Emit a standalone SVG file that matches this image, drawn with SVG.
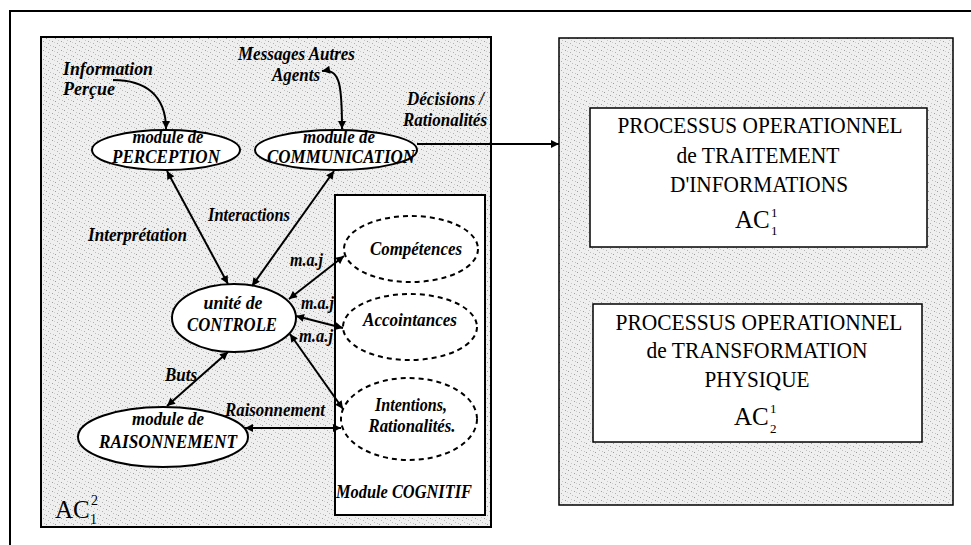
<svg xmlns="http://www.w3.org/2000/svg" width="971" height="545" viewBox="0 0 971 545">
<defs>
<pattern id="speckle" width="9" height="9" patternUnits="userSpaceOnUse">
<rect width="9" height="9" fill="#efefef"/>
<rect x="1" y="2" width="1" height="1" fill="#9a9a9a"/>
<rect x="5" y="0" width="1" height="1" fill="#bdbdbd"/>
<rect x="7" y="5" width="1" height="1" fill="#a0a0a0"/>
<rect x="3" y="7" width="1" height="1" fill="#b0b0b0"/>
<rect x="4" y="4" width="1" height="1" fill="#c8c8c8"/>
<rect x="0" y="6" width="1" height="1" fill="#d0d0d0"/>
<rect x="8" y="1" width="1" height="1" fill="#c0c0c0"/>
</pattern>
<marker id="ah" viewBox="0 0 10 10" refX="10" refY="5" markerWidth="9" markerHeight="8" markerUnits="userSpaceOnUse" orient="auto-start-reverse">
<path d="M0,0 L10,5 L0,10 z" fill="#000"/>
</marker>
</defs>
<style>
.lbl{font-family:"Liberation Serif","Times New Roman",serif;font-weight:bold;font-style:italic;font-size:18.5px;fill:#000}
.proc{font-family:"Liberation Serif","Times New Roman",serif;font-size:22.5px;fill:#000}
.ac{font-family:"Liberation Serif","Times New Roman",serif;fill:#000}
.node{fill:#fff;stroke:#000;stroke-width:2}
.dash{fill:none;stroke:#000;stroke-width:2;stroke-dasharray:5 4}
.box{stroke:#000;stroke-width:2}
.conn{fill:none;stroke:#000;stroke-width:2}
.mc{text-anchor:middle}
</style>
<rect width="971" height="545" fill="#fff"/>
<g id="frame">
<path d="M10,545 L10,11 L971,11" fill="none" stroke="#000" stroke-width="2"/>
</g>
<g id="agent-AC12">
<rect x="41" y="37" width="450" height="490" fill="url(#speckle)" class="box"/>
<text class="ac" x="55" y="518" font-size="25">AC</text>
<text class="ac" x="91" y="505" font-size="14">2</text>
<text class="ac" x="90" y="524" font-size="14">1</text>
</g>
<g id="operationnel">
<rect x="559" y="38" width="394" height="467" fill="url(#speckle)" stroke="#000" stroke-width="1.5"/>
</g>
<g id="traitement">
<rect x="590" y="108" width="337" height="139" fill="#fff" stroke="#000" stroke-width="1.5"/>
<text class="proc mc" x="760" y="133" textLength="285" lengthAdjust="spacingAndGlyphs">PROCESSUS OPERATIONNEL</text>
<text class="proc mc" x="758" y="163" textLength="163" lengthAdjust="spacingAndGlyphs">de TRAITEMENT</text>
<text class="proc mc" x="759" y="192" textLength="178" lengthAdjust="spacingAndGlyphs">D'INFORMATIONS</text>
<text class="ac" x="735" y="228" font-size="25">AC</text>
<text class="ac" x="771" y="217" font-size="13">1</text>
<text class="ac" x="771" y="235" font-size="13">1</text>
</g>
<g id="transformation">
<rect x="593" y="304" width="329" height="138" fill="#fff" stroke="#000" stroke-width="1.5"/>
<text class="proc mc" x="759" y="330" textLength="287" lengthAdjust="spacingAndGlyphs">PROCESSUS OPERATIONNEL</text>
<text class="proc mc" x="757" y="358" textLength="221" lengthAdjust="spacingAndGlyphs">de TRANSFORMATION</text>
<text class="proc mc" x="757" y="387" textLength="105" lengthAdjust="spacingAndGlyphs">PHYSIQUE</text>
<text class="ac" x="734" y="425" font-size="25">AC</text>
<text class="ac" x="770" y="413" font-size="13">1</text>
<text class="ac" x="770" y="433" font-size="13">2</text>
</g>
<g id="cognitif">
<rect x="335" y="195" width="150" height="320" fill="#fff" class="box"/>
<text class="lbl" x="336" y="498" textLength="136" lengthAdjust="spacingAndGlyphs">Module COGNITIF</text>
</g>
<g id="competences">
<ellipse cx="411" cy="249" rx="67" ry="33" class="dash"/>
<text class="lbl mc" x="416" y="255" textLength="92" lengthAdjust="spacingAndGlyphs">Compétences</text>
</g>
<g id="accointances">
<ellipse cx="410" cy="327" rx="67" ry="33" class="dash"/>
<text class="lbl mc" x="410" y="326" textLength="94" lengthAdjust="spacingAndGlyphs">Accointances</text>
</g>
<g id="intentions">
<ellipse cx="409" cy="419" rx="68" ry="41" class="dash"/>
<text class="lbl mc" x="411" y="411" textLength="72" lengthAdjust="spacingAndGlyphs">Intentions,</text>
<text class="lbl mc" x="412" y="432" textLength="87" lengthAdjust="spacingAndGlyphs">Rationalités.</text>
</g>
<g id="perception">
<ellipse cx="166" cy="150" rx="74" ry="20" class="node"/>
<text class="lbl mc" x="168" y="143" textLength="71" lengthAdjust="spacingAndGlyphs">module de</text>
<text class="lbl mc" x="166" y="163" textLength="108" lengthAdjust="spacingAndGlyphs">PERCEPTION</text>
</g>
<g id="communication">
<ellipse cx="336" cy="150" rx="81" ry="20" class="node"/>
<text class="lbl mc" x="339" y="143" textLength="72" lengthAdjust="spacingAndGlyphs">module de</text>
<text class="lbl" x="267" y="163" textLength="148" lengthAdjust="spacingAndGlyphs">COMMUNICATION</text>
</g>
<g id="controle">
<ellipse cx="234" cy="318" rx="62" ry="34" class="node"/>
<text class="lbl mc" x="233" y="309" textLength="59" lengthAdjust="spacingAndGlyphs">unité de</text>
<text class="lbl mc" x="232" y="331" textLength="90" lengthAdjust="spacingAndGlyphs">CONTROLE</text>
</g>
<g id="raisonnement">
<ellipse cx="163" cy="437" rx="85" ry="30" class="node"/>
<text class="lbl mc" x="168" y="425" textLength="72" lengthAdjust="spacingAndGlyphs">module de</text>
<text class="lbl mc" x="168" y="448" textLength="138" lengthAdjust="spacingAndGlyphs">RAISONNEMENT</text>
</g>
<g id="connectors">
<path class="conn" d="M113,80 C145,80 166,95 166,129" marker-end="url(#ah)"/>
<path class="conn" d="M322,71 C340,68 342,85 342,129" marker-start="url(#ah)" marker-end="url(#ah)"/>
<line class="conn" x1="417" y1="144" x2="559" y2="144" marker-end="url(#ah)"/>
<line class="conn" x1="167" y1="171" x2="228" y2="284" marker-start="url(#ah)" marker-end="url(#ah)"/>
<line class="conn" x1="334" y1="171" x2="252" y2="286" marker-start="url(#ah)" marker-end="url(#ah)"/>
<line class="conn" x1="289" y1="299" x2="344" y2="256" marker-start="url(#ah)" marker-end="url(#ah)"/>
<line class="conn" x1="296" y1="316" x2="343" y2="328" marker-start="url(#ah)" marker-end="url(#ah)"/>
<line class="conn" x1="290" y1="334" x2="343" y2="409" marker-start="url(#ah)" marker-end="url(#ah)"/>
<line class="conn" x1="228" y1="352" x2="167" y2="406" marker-start="url(#ah)" marker-end="url(#ah)"/>
<line class="conn" x1="245" y1="428" x2="341" y2="428" marker-start="url(#ah)" marker-end="url(#ah)"/>
<text class="lbl" x="63" y="75" textLength="90" lengthAdjust="spacingAndGlyphs">Information</text>
<text class="lbl" x="63" y="95" textLength="52" lengthAdjust="spacingAndGlyphs">Perçue</text>
<text class="lbl" x="238" y="60" textLength="117" lengthAdjust="spacingAndGlyphs">Messages Autres</text>
<text class="lbl" x="272" y="81" textLength="48" lengthAdjust="spacingAndGlyphs">Agents</text>
<text class="lbl" x="407" y="105" textLength="77" lengthAdjust="spacingAndGlyphs">Décisions /</text>
<text class="lbl" x="403" y="126" textLength="84" lengthAdjust="spacingAndGlyphs">Rationalités</text>
<text class="lbl" x="88" y="241" textLength="99" lengthAdjust="spacingAndGlyphs">Interprétation</text>
<text class="lbl" x="208" y="221" textLength="82" lengthAdjust="spacingAndGlyphs">Interactions</text>
<text class="lbl" x="290" y="266" textLength="33" lengthAdjust="spacingAndGlyphs">m.a.j</text>
<text class="lbl" x="301" y="309" textLength="33" lengthAdjust="spacingAndGlyphs">m.a.j</text>
<text class="lbl" x="299" y="342" textLength="34" lengthAdjust="spacingAndGlyphs">m.a.j</text>
<text class="lbl" x="165" y="381" textLength="32" lengthAdjust="spacingAndGlyphs">Buts</text>
<text class="lbl" x="225" y="416" textLength="100" lengthAdjust="spacingAndGlyphs">Raisonnement</text>
</g>
</svg>
